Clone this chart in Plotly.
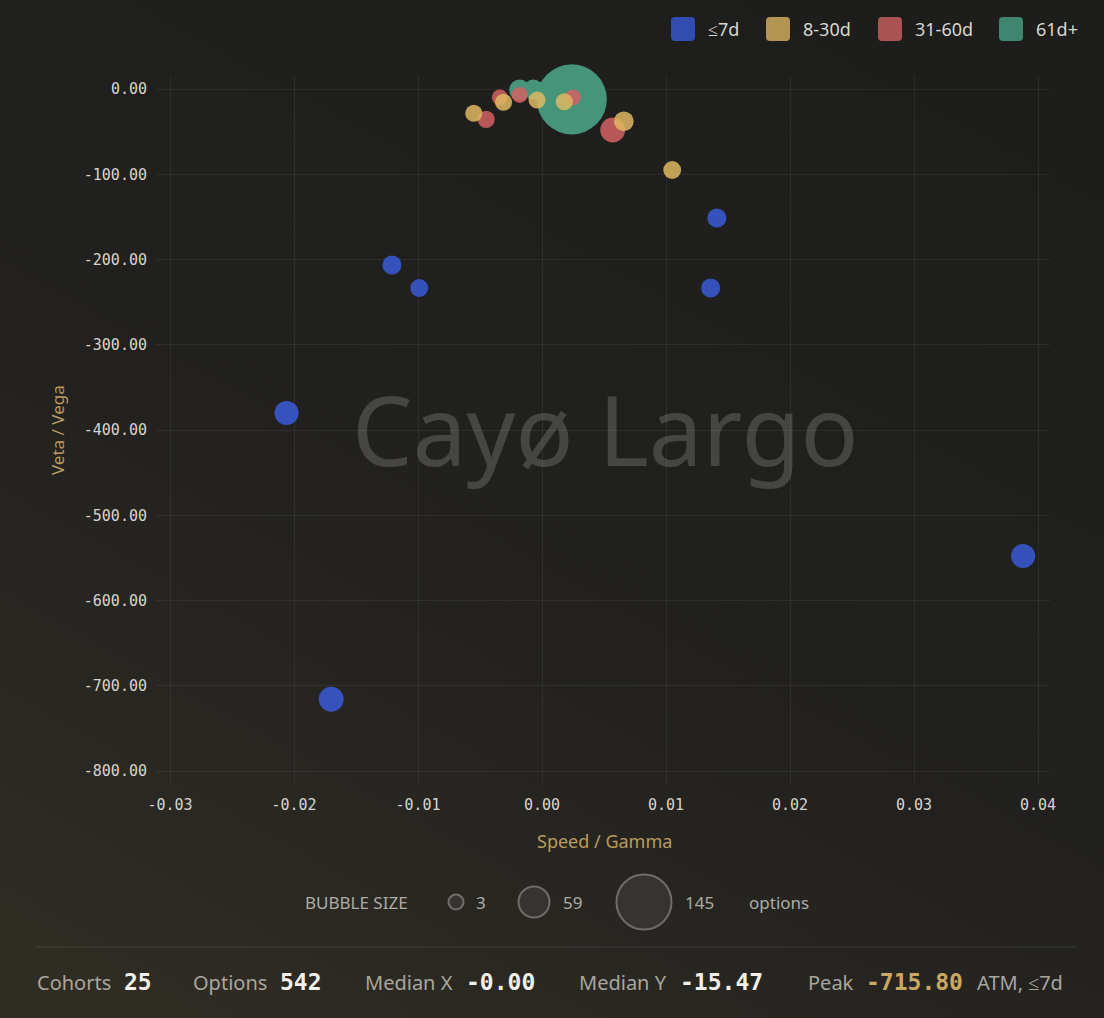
import plotly.graph_objects as go
import numpy as np
import urllib.parse

# ---------------- data ----------------
cohort_names = ["≤7d", "8-30d", "31-60d", "61d+"]

x_7d = [-0.0206, -0.0170, -0.0121, -0.0099, 0.0136, 0.0141, 0.0388]
y_7d = [-380.1, -715.8, -206.5, -233.4, -233.4, -151.3, -547.8]
n_7d = [26, 28, 13, 10, 13, 13, 26]

x_30d = [-0.0055, -0.0031, -0.0004, 0.0018, 0.0066, 0.0105]
y_30d = [-28.5, -15.47, -12.9, -14.9, -37.9, -95.0]
n_30d = [8, 8, 8, 8, 15, 10]

x_60d = [-0.0045, -0.0034, -0.0018, 0.0025, 0.0057]
y_60d = [-35.6, -9.8, -7.0, -9.8, -48.1]
n_60d = [8, 5, 5, 5, 28]

x_61d = [0.0015, 0.0030, 0.0034, 0.0024, -0.0018, -0.0007, -0.0001]
y_61d = [-8.0, -14.0, -5.0, -12.1, -1.2, -0.5, -3.2]
n_61d = [38, 36, 38, 145, 18, 15, 15]

x_tick_vals = [-0.03, -0.02, -0.01, 0.0, 0.01, 0.02, 0.03, 0.04]
x_tick_text = ["-0.03", "-0.02", "-0.01", "0.00", "0.01", "0.02", "0.03", "0.04"]
y_tick_vals = [0, -100, -200, -300, -400, -500, -600, -700, -800]
y_tick_text = ["0.00", "-100.00", "-200.00", "-300.00", "-400.00",
               "-500.00", "-600.00", "-700.00", "-800.00"]

size_legend_vals = [3, 59, 145]

stat_labels = ["Cohorts", "Options", "Median X", "Median Y", "Peak"]
stat_values = ["25", "542", "-0.00", "-15.47", "-715.80"]
peak_note = "ATM, ≤7d"

# ---------------- style ----------------
W, H = 1104, 1018
PL, PR, PT, PB = 156, 1050, 76, 784
colors = {"≤7d": "#3a5ad8", "8-30d": "#deb762", "31-60d": "#d46262", "61d+": "#46957b"}
opac = {"≤7d": 0.85, "8-30d": 0.85, "31-60d": 0.85, "61d+": 1.0}
MONO = "DejaVu Sans Mono"
SANS = "Noto Sans"
GOLD = "#b89c5e"
XSCALE = 12400.0   # px per x unit
YSCALE = 0.8525    # px per y unit


def xp(px):
    return (px - PL) / (PR - PL)


def yp(py):
    return (PB - py) / (PB - PT)


def diam(n):
    return 14 + 0.387 * np.asarray(n, dtype=float)


fig = go.Figure()
series = [
    ("61d+", x_61d, y_61d, n_61d),
    ("31-60d", x_60d, y_60d, n_60d),
    ("8-30d", x_30d, y_30d, n_30d),
    ("≤7d", x_7d, y_7d, n_7d),
]
for name, xs, ys, ns in series:
    fig.add_trace(go.Scatter(
        x=xs, y=ys, mode="markers", name=name, showlegend=False, cliponaxis=False,
        marker=dict(size=diam(ns), sizemode="diameter", color=colors[name],
                    opacity=opac[name], line=dict(width=0)),
        customdata=ns,
        hovertemplate="%{x:.4f}, %{y:.2f}<br>%{customdata} options<extra>" + name + "</extra>",
    ))

shapes = []
annotations = []

# legend (top right)
legend_x = [671, 766, 878, 999]
legend_col = {"≤7d": "#3a5ad8", "8-30d": "#deb762", "31-60d": "#d46262", "61d+": "#4aa386"}
for name, lx in zip(cohort_names, legend_x):
    s = 12
    r = 4
    path = (f"M {-s+r},{-s} L {s-r},{-s} Q {s},{-s} {s},{-s+r} L {s},{s-r} Q {s},{s} {s-r},{s} "
            f"L {-s+r},{s} Q {-s},{s} {-s},{s-r} L {-s},{-s+r} Q {-s},{-s} {-s+r},{-s} Z")
    shapes.append(dict(type="path", xref="paper", yref="paper", xsizemode="pixel", ysizemode="pixel",
                       xanchor=xp(lx + 12), yanchor=yp(29), path=path,
                       fillcolor=legend_col[name], opacity=0.78, line=dict(width=0)))
    annotations.append(dict(x=xp(lx + 35), y=yp(29), xref="paper", yref="paper", text=name,
                            showarrow=False, xanchor="left", yanchor="middle",
                            font=dict(family=SANS, size=18, color="#d8d6ce")))

# watermark
annotations.append(dict(x=xp(605), y=yp(428), xref="paper", yref="paper", text="Cayø Largo",
                        showarrow=False, xanchor="center", yanchor="middle",
                        font=dict(family=SANS, size=96, color="rgba(255,255,255,0.17)")))

# axis titles
annotations.append(dict(x=xp(604), y=yp(841), xref="paper", yref="paper", text="Speed / Gamma",
                        showarrow=False, xanchor="center", yanchor="middle",
                        font=dict(family=SANS, size=18, color=GOLD)))
annotations.append(dict(x=xp(57), y=yp(430), xref="paper", yref="paper", text="Veta / Vega",
                        showarrow=False, xanchor="center", yanchor="middle", textangle=-90,
                        font=dict(family=SANS, size=17, color=GOLD)))

# bubble size legend
annotations.append(dict(x=xp(303), y=yp(902), xref="paper", yref="paper", text="BUBBLE SIZE",
                        showarrow=False, xanchor="left", yanchor="middle",
                        font=dict(family=SANS, size=17, color="#aeaca5")))
circ_cx = [456, 534, 644]
circ_d = [15, 31, 55]
lab_x = [474, 561, 683]
for v, cx, d, lx in zip(size_legend_vals, circ_cx, circ_d, lab_x):
    shapes.append(dict(type="circle", xref="paper", yref="paper", xsizemode="pixel", ysizemode="pixel",
                       xanchor=xp(cx), yanchor=yp(902), x0=-d / 2, x1=d / 2, y0=-d / 2, y1=d / 2,
                       fillcolor="#353430", line=dict(color="#6e6d68", width=2)))
    annotations.append(dict(x=xp(lx), y=yp(902), xref="paper", yref="paper", text=str(v),
                            showarrow=False, xanchor="left", yanchor="middle",
                            font=dict(family=SANS, size=17, color="#aeaca5")))
annotations.append(dict(x=xp(747), y=yp(902), xref="paper", yref="paper", text="options",
                        showarrow=False, xanchor="left", yanchor="middle",
                        font=dict(family=SANS, size=17, color="#aeaca5")))

# separator
shapes.append(dict(type="line", xref="paper", yref="paper", x0=xp(36), x1=xp(1076),
                   y0=yp(947), y1=yp(947), line=dict(color="rgba(255,255,255,0.08)", width=1.5)))

# footer stats
label_x = [35, 191, 363, 577, 806]
value_x = [122, 278, 464, 678, 864]
for lab, val, lx, vx in zip(stat_labels, stat_values, label_x, value_x):
    annotations.append(dict(x=xp(lx), y=yp(982), xref="paper", yref="paper", text=lab,
                            showarrow=False, xanchor="left", yanchor="middle",
                            font=dict(family=SANS, size=20, color="#a8a69f")))
    vcol = "#c9a862" if lab == "Peak" else "#f2f0ea"
    annotations.append(dict(x=xp(vx), y=yp(982), xref="paper", yref="paper", text=f"<b>{val}</b>",
                            showarrow=False, xanchor="left", yanchor="middle",
                            font=dict(family=MONO, size=23, color=vcol)))
annotations.append(dict(x=xp(975), y=yp(982), xref="paper", yref="paper", text=peak_note,
                        showarrow=False, xanchor="left", yanchor="middle",
                        font=dict(family=SANS, size=20, color="#a8a69f")))

# background gradient
svg = ("<svg xmlns='http://www.w3.org/2000/svg' width='100' height='100' preserveAspectRatio='none'>"
       "<defs><linearGradient id='g' x1='0.75' y1='0' x2='0.15' y2='1'>"
       "<stop offset='0' stop-color='#1d1d1c'/><stop offset='0.55' stop-color='#22211f'/>"
       "<stop offset='1' stop-color='#2f2c24'/></linearGradient></defs>"
       "<rect width='100' height='100' fill='url(#g)'/></svg>")
bg_src = "data:image/svg+xml;charset=utf-8," + urllib.parse.quote(svg)

fig.update_layout(
    width=W, height=H, autosize=False,
    margin=dict(l=PL, r=W - PR, t=PT, b=H - PB, autoexpand=False),
    paper_bgcolor="#232220", plot_bgcolor="rgba(0,0,0,0)",
    font=dict(family=SANS, color="#d6d4cc"),
    showlegend=False,
    shapes=shapes, annotations=annotations,
    images=[dict(source=bg_src, xref="paper", yref="paper", x=xp(0), y=yp(0),
                 sizex=W / (PR - PL), sizey=H / (PB - PT), xanchor="left", yanchor="top",
                 sizing="stretch", layer="below")],
    xaxis=dict(range=[-0.03 - (170 - PL) / XSCALE, 0.04 + (PR - 1038) / XSCALE],
               tickvals=x_tick_vals, ticktext=x_tick_text,
               showgrid=True, gridcolor="rgba(255,255,255,0.06)", gridwidth=1, zeroline=False,
               showline=False, ticks="", ticklabelstandoff=10,
               tickfont=dict(family=MONO, size=15, color="#d6d4cc")),
    yaxis=dict(range=[-800 - (PB - 771) / YSCALE, (89 - PT) / YSCALE],
               tickvals=y_tick_vals, ticktext=y_tick_text,
               showgrid=True, gridcolor="rgba(255,255,255,0.06)", gridwidth=1, zeroline=False,
               showline=False, ticks="", ticklabelstandoff=8,
               tickfont=dict(family=MONO, size=15, color="#d6d4cc")),
)

fig.write_html("out.html", config={"displayModeBar": False},
               post_script="document.body.style.margin='0px';document.body.style.background='#1d1d1c';")
